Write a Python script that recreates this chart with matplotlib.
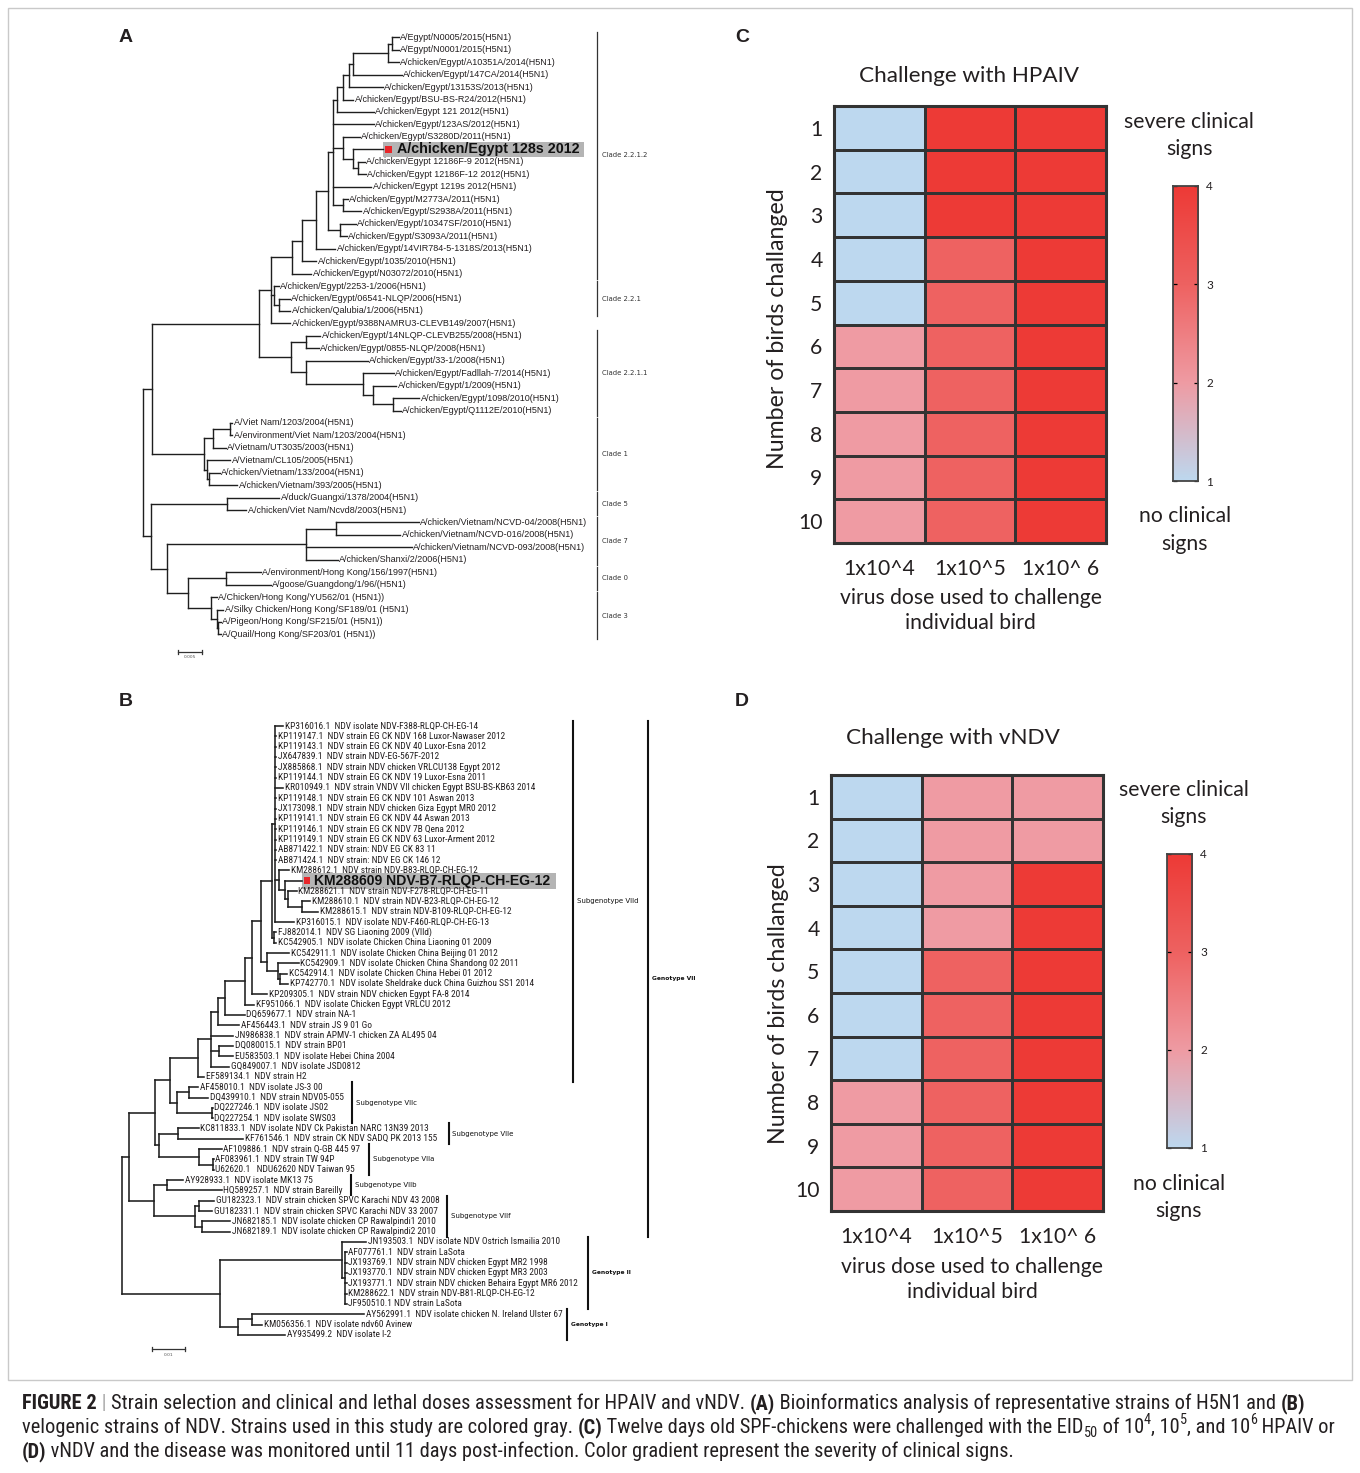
import matplotlib
matplotlib.use("Agg")
import numpy as np
import matplotlib.pyplot as plt
from matplotlib import font_manager
from matplotlib.colors import LinearSegmentedColormap
from matplotlib.collections import LineCollection
from matplotlib.patches import Rectangle

# ============================ DATA ============================
LEAVES_A = [
    "A/Egypt/N0005/2015(H5N1)", "A/Egypt/N0001/2015(H5N1)",
    "A/chicken/Egypt/A10351A/2014(H5N1)", "A/chicken/Egypt/147CA/2014(H5N1)",
    "A/chicken/Egypt/13153S/2013(H5N1)", "A/chicken/Egypt/BSU-BS-R24/2012(H5N1)",
    "A/chicken/Egypt 121 2012(H5N1)", "A/chicken/Egypt/123AS/2012(H5N1)",
    "A/chicken/Egypt/S3280D/2011(H5N1)", "A/chicken/Egypt 128s 2012",
    "A/chicken/Egypt 12186F-9 2012(H5N1)", "A/chicken/Egypt 12186F-12 2012(H5N1)",
    "A/chicken/Egypt 1219s 2012(H5N1)", "A/chicken/Egypt/M2773A/2011(H5N1)",
    "A/chicken/Egypt/S2938A/2011(H5N1)", "A/chicken/Egypt/10347SF/2010(H5N1)",
    "A/chicken/Egypt/S3093A/2011(H5N1)", "A/chicken/Egypt/14VIR784-5-1318S/2013(H5N1)",
    "A/chicken/Egypt/1035/2010(H5N1)", "A/chicken/Egypt/N03072/2010(H5N1)",
    "A/chicken/Egypt/2253-1/2006(H5N1)", "A/chicken/Egypt/06541-NLQP/2006(H5N1)",
    "A/chicken/Qalubia/1/2006(H5N1)", "A/chicken/Egypt/9388NAMRU3-CLEVB149/2007(H5N1)",
    "A/chicken/Egypt/14NLQP-CLEVB255/2008(H5N1)", "A/chicken/Egypt/0855-NLQP/2008(H5N1)",
    "A/chicken/Egypt/33-1/2008(H5N1)", "A/chicken/Egypt/Fadllah-7/2014(H5N1)",
    "A/chicken/Egypt/1/2009(H5N1)", "A/chicken/Egypt/1098/2010(H5N1)",
    "A/chicken/Egypt/Q1112E/2010(H5N1)", "A/Viet Nam/1203/2004(H5N1)",
    "A/environment/Viet Nam/1203/2004(H5N1)", "A/Vietnam/UT3035/2003(H5N1)",
    "A/Vietnam/CL105/2005(H5N1)", "A/chicken/Vietnam/133/2004(H5N1)",
    "A/chicken/Vietnam/393/2005(H5N1)", "A/duck/Guangxi/1378/2004(H5N1)",
    "A/chicken/Viet Nam/Ncvd8/2003(H5N1)", "A/chicken/Vietnam/NCVD-04/2008(H5N1)",
    "A/chicken/Vietnam/NCVD-016/2008(H5N1)", "A/chicken/Vietnam/NCVD-093/2008(H5N1)",
    "A/chicken/Shanxi/2/2006(H5N1)", "A/environment/Hong Kong/156/1997(H5N1)",
    "A/goose/Guangdong/1/96/(H5N1)", "A/Chicken/Hong Kong/YU562/01 (H5N1))",
    "A/Silky Chicken/Hong Kong/SF189/01 (H5N1)", "A/Pigeon/Hong Kong/SF215/01 (H5N1))",
    "A/Quail/Hong Kong/SF203/01 (H5N1))",
]
HIGHLIGHT_A = 9

# internal node -> [(child, branch length)], leaves are indices into LEAVES_A
TREE_A = {
    "root": [("p1", 9.4), ("o1", 7.6)],
    "p1": [("t", 106.6), ("e1", 51.6)],
    "t": [("s", 11.8), ("u", 32.3)],
    "s": [("p", 21.2), ("q", 3.6), (23, 19.4)],
    "p": [("o", 10.0), (19, 19.0)],
    "o": [("n", 13.7), (18, 14.4)],
    "n": [("m", 12.2), (17, 19.7)],
    "m": [("g", 5.4), ("l", 11.8)],
    "l": [(15, 16.2), (16, 7.2)],
    "g": [("f", 3.6), (7, 40.5), ("h", 9.3), (12, 38.0), ("i", 10.0)],
    "f": [("e", 6.4), (6, 36.9)],
    "e": [("d", 5.4), (5, 10.1)],
    "d": [("c", 4.3), (4, 34.1)],
    "c": [("b", 35.2), (3, 48.5)],
    "b": [("a", 3.6), (2, 10.7)],
    "a": [(0, 7.1), (1, 7.1)],
    "h": [(8, 16.9), ("j", 10.8)],
    "j": [(9, 29.4), ("k", 4.3)],
    "k": [(10, 7.1), (11, 7.9)],
    "i": [(13, 4.3), (14, 18.0)],
    "q": [(20, 4.3), ("r", 4.3)],
    "r": [(21, 10.8), (22, 11.5)],
    "u": [("v", 14.3), ("w", 14.3)],
    "v": [(24, 14.4), (25, 13.3)],
    "w": [(26, 62.1), ("x1", 57.5)],
    "x1": [(27, 30.5), ("y1", 9.6)],
    "y1": [(28, 23.4), ("z1", 19.8)],
    "z1": [(29, 26.9), (30, 8.2)],
    "e1": [("b1", 9.0), ("c1", 2.9)],
    "b1": [("a1", 16.5), (33, 12.6)],
    "a1": [(31, 2.5), (32, 2.5)],
    "c1": [(34, 23.3), ("d1", 2.2)],
    "d1": [(35, 10.4), (36, 28.3)],
    "o1": [("f1", 76.8), ("n1", 16.8)],
    "f1": [(37, 52.0), (38, 19.0)],
    "n1": [("h1", 138.2), ("m1", 20.5)],
    "h1": [("g1", 30.5), (41, 105.9), (42, 32.3)],
    "g1": [(39, 82.6), (40, 63.9)],
    "m1": [("i1", 38.0), ("j1", 23.3)],
    "i1": [(43, 34.9), (44, 44.9)],
    "j1": [(45, 5.4), ("k1", 5.4)],
    "k1": [(46, 6.5), ("l1", 1.8)],
    "l1": [(47, 2.2), (48, 2.2)],
}
CLADES_A = [("Clade 2.2.1.2", 0, 19), ("Clade 2.2.1", 20, 22), ("Clade 2.2.1.1", 24, 30),
            ("Clade 1", 31, 36), ("Clade 5", 37, 38), ("Clade 7", 39, 42),
            ("Clade 0", 43, 44), ("Clade 3", 45, 48)]
SCALE_A = ("0.005", 24.4)

LEAVES_B = [
    "KP316016.1  NDV isolate NDV-F388-RLQP-CH-EG-14",
    "KP119147.1  NDV strain EG CK NDV 168 Luxor-Nawaser 2012",
    "KP119143.1  NDV strain EG CK NDV 40 Luxor-Esna 2012",
    "JX647839.1  NDV strain NDV-EG-567F-2012",
    "JX885868.1  NDV strain NDV chicken VRLCU138 Egypt 2012",
    "KP119144.1  NDV strain EG CK NDV 19 Luxor-Esna 2011",
    "KR010949.1  NDV strain VNDV VII chicken Egypt BSU-BS-KB63 2014",
    "KP119148.1  NDV strain EG CK NDV 101 Aswan 2013",
    "JX173098.1  NDV strain NDV chicken Giza Egypt MR0 2012",
    "KP119141.1  NDV strain EG CK NDV 44 Aswan 2013",
    "KP119146.1  NDV strain EG CK NDV 7B Qena 2012",
    "KP119149.1  NDV strain EG CK NDV 63 Luxor-Arment 2012",
    "AB871422.1  NDV strain: NDV EG CK 83 11",
    "AB871424.1  NDV strain: NDV EG CK 146 12",
    "KM288612.1  NDV strain NDV-B83-RLQP-CH-EG-12",
    "KM288609 NDV-B7-RLQP-CH-EG-12",
    "KM288621.1  NDV strain NDV-F278-RLQP-CH-EG-11",
    "KM288610.1  NDV strain NDV-B23-RLQP-CH-EG-12",
    "KM288615.1  NDV strain NDV-B109-RLQP-CH-EG-12",
    "KP316015.1  NDV isolate NDV-F460-RLQP-CH-EG-13",
    "FJ882014.1  NDV SG Liaoning 2009 (VIId)",
    "KC542905.1  NDV isolate Chicken China Liaoning 01 2009",
    "KC542911.1  NDV isolate Chicken China Beijing 01 2012",
    "KC542909.1  NDV isolate Chicken China Shandong 02 2011",
    "KC542914.1  NDV isolate Chicken China Hebei 01 2012",
    "KP742770.1  NDV isolate Sheldrake duck China Guizhou SS1 2014",
    "KP209305.1  NDV strain NDV chicken Egypt FA-8 2014",
    "KF951066.1  NDV isolate Chicken Egypt VRLCU 2012",
    "DQ659677.1  NDV strain NA-1",
    "AF456443.1  NDV strain JS 9 01 Go",
    "JN986838.1  NDV strain APMV-1 chicken ZA AL495 04",
    "DQ080015.1  NDV strain BP01",
    "EU583503.1  NDV isolate Hebei China 2004",
    "GQ849007.1  NDV isolate JSD0812",
    "EF589134.1  NDV strain H2",
    "AF458010.1  NDV isolate JS-3 00",
    "DQ439910.1  NDV strain NDV05-055",
    "DQ227246.1  NDV isolate JS02",
    "DQ227254.1  NDV isolate SWS03",
    "KC811833.1  NDV isolate NDV Ck Pakistan NARC 13N39 2013",
    "KF761546.1  NDV strain CK NDV SADQ PK 2013 155",
    "AF109886.1  NDV strain Q-GB 445 97",
    "AF083961.1  NDV strain TW 94P",
    "U62620.1   NDU62620 NDV Taiwan 95",
    "AY928933.1  NDV isolate MK13 75",
    "HQ589257.1  NDV strain Bareilly",
    "GU182323.1  NDV strain chicken SPVC Karachi NDV 43 2008",
    "GU182331.1  NDV strain chicken SPVC Karachi NDV 33 2007",
    "JN682185.1  NDV isolate chicken CP Rawalpindi1 2010",
    "JN682189.1  NDV isolate chicken CP Rawalpindi2 2010",
    "JN193503.1  NDV isolate NDV Ostrich Ismailia 2010",
    "AF077761.1  NDV strain LaSota",
    "JX193769.1  NDV strain NDV chicken Egypt MR2 1998",
    "JX193770.1  NDV strain NDV chicken Egypt MR3 2003",
    "JX193771.1  NDV strain NDV chicken Behaira Egypt MR6 2012",
    "KM288622.1  NDV strain NDV-B81-RLQP-CH-EG-12",
    "JF950510.1 NDV strain LaSota",
    "AY562991.1  NDV isolate chicken N. Ireland Ulster 67",
    "KM056356.1  NDV isolate ndv60 Avinew",
    "AY935499.2  NDV isolate I-2",
]
HIGHLIGHT_B = 15

TREE_B = {
    "root": [("G7", 7.7), ("G3", 98.1)],
    "G7": [("N9", 25.8), ("N11", 25.0)],
    "N9": [("N8", 14.5), ("N10", 4.2)],
    "N8": [("N7", 28.2), ("C1", 7.2)],
    "N7": [("N6", 13.1), (34, 6.5)],
    "N6": [("N5", 6.9), (30, 22.2), ("N6b", 8.0), (33, 18.4)],
    "N6b": [(31, 14.2), (32, 14.2)],
    "N5": [("N4", 7.7), (29, 21.1)],
    "N4": [("N3", 20.0), (28, 19.2)],
    "N3": [("N2", 6.9), (27, 8.6)],
    "N2": [("N1", 8.5), (26, 14.7)],
    "N1": [("P", 10.7), ("V", 6.1)],
    "P": [("Q", 3.9), ("P2", 2.0)],
    "P2": [(20, 2.5), (21, 2.5)],
    "Q": [(0, 7.6), (1, 0.8), (2, 0.8), (3, 0.8), (4, 0.8), (5, 0.8), (6, 7.6),
          (7, 0.8), (8, 0.8), (9, 0.8), (10, 0.8), (11, 0.8), (12, 0.8), (13, 0.8),
          ("R", 3.8), (19, 18.4)],
    "R": [(14, 9.6), ("S", 5.8)],
    "S": [(15, 16.5), ("T", 2.7)],
    "T": [(16, 8.8), ("U", 14.6)],
    "U": [(17, 7.7), (18, 15.4)],
    "V": [(22, 21.9), ("W", 11.1)],
    "W": [(23, 20.5), ("X2", 2.0)],
    "X2": [(24, 7.0), (25, 7.7)],
    "C1": [("C2", 12.1), ("C3", 35.3)],
    "C2": [(35, 9.2), (36, 19.2)],
    "C3": [(37, 0.5), (38, 0.5)],
    "N10": [("E1", 19.1), ("A1", 40.0)],
    "E1": [(39, 20.2), (40, 64.4)],
    "A1": [(41, 22.3), ("A2", 13.8)],
    "A2": [(42, 0.5), (43, 0.5)],
    "N11": [("B1", 12.8), ("F1", 40.4)],
    "B1": [(44, 16.0), (45, 54.5)],
    "F1": [("F2", 3.9), ("F3", 7.7)],
    "F2": [(46, 15.3), (47, 13.5)],
    "F3": [(48, 27.7), (49, 27.7)],
    "G3": [("GII", 122.4), ("GI", 18.4)],
    "GII": [(50, 24.0), ("GII2", 2.6)],
    "GII2": [(51, 1.9), (52, 1.9), (53, 1.9), (54, 1.9), (55, 1.9), (56, 1.9)],
    "GI": [("GI2", 14.0), (59, 47.0)],
    "GI2": [(57, 112.0), (58, 10.0)],
}
GROUPS_B = [("Subgenotype VIId", 0, 34, False), ("Genotype VII", 0, 49, True),
            ("Subgenotype VIIc", 35, 38, False), ("Subgenotype VIIe", 39, 40, False),
            ("Subgenotype VIIa", 41, 43, False), ("Subgenotype VIIb", 44, 45, False),
            ("Subgenotype VIIf", 46, 49, False), ("Genotype II", 50, 56, True),
            ("Genotype I", 57, 59, True)]
SCALE_B = ("0.01", 33.5)

DOSES = ["1x10^4", "1x10^5", "1x10^ 6"]
BIRDS = ["1", "2", "3", "4", "5", "6", "7", "8", "9", "10"]
HPAIV_1E4 = [1, 1, 1, 1, 1, 2, 2, 2, 2, 2]
HPAIV_1E5 = [4, 4, 4, 3, 3, 3, 3, 3, 3, 3]
HPAIV_1E6 = [4, 4, 4, 4, 4, 4, 4, 4, 4, 4]
NDV_1E4 = [1, 1, 1, 1, 1, 1, 1, 2, 2, 2]
NDV_1E5 = [2, 2, 2, 2, 3, 3, 3, 3, 3, 3]
NDV_1E6 = [2, 2, 4, 4, 4, 4, 4, 4, 4, 4]
CBAR_TICKS = [1, 2, 3, 4]

# ============================ LAYOUT / STYLE ============================
W, H, DPI = 1360, 1473, 100
names = {f.name for f in font_manager.fontManager.ttflist}


def pick(cands, default):
    for c in cands:
        if c in names:
            return c
    return default


ARIAL = "Liberation Sans"
NARROW = pick(["Liberation Sans Narrow", "Roboto Condensed", "Open Sans Condensed",
               "Noto Sans Condensed", "Arial Narrow"], ARIAL)
HMF = pick(["Lato", "Open Sans"], "DejaVu Sans")
SMALLF = "DejaVu Sans"
INK = "#231f20"

plt.rcParams["font.family"] = [ARIAL, "DejaVu Sans"]

CMAP = LinearSegmentedColormap.from_list(
    "sev", [(0.0, "#BDD8EF"), (1 / 3, "#EF9BA3"), (2 / 3, "#EE6261"), (1.0, "#ED3A36")])

fig = plt.figure(figsize=(W / DPI, H / DPI), dpi=DPI)
ax = fig.add_axes([0, 0, 1, 1])
ax.set_xlim(0, W)
ax.set_ylim(H, 0)
ax.axis("off")
R = fig.canvas.get_renderer()
inv = ax.transData.inverted()


def twidth(s, size, family, weight="normal"):
    t = ax.text(0, 0, s, fontsize=size, family=family, fontweight=weight)
    w = t.get_window_extent(R).width
    t.remove()
    return w


def fit(s, target, family, weight="normal"):
    return 10.0 * target / twidth(s, 10.0, family, weight)


def data_extent(t):
    bb = t.get_window_extent(R)
    (xa, ya), (xb, yb) = inv.transform([(bb.x0, bb.y0), (bb.x1, bb.y1)])
    return xa, xb


def draw_tree(tree, root_x, y0, dy, lw):
    xs, ys = {}, {}

    def rec(node, x):
        xs[node] = x
        if isinstance(node, str):
            for c, bl in tree[node]:
                rec(c, x + bl)
            kids = [c for c, _ in tree[node]]
            ys[node] = (ys[kids[0]] + ys[kids[-1]]) / 2.0
        else:
            ys[node] = float(node)

    rec("root", 0.0)

    def X(n):
        return root_x + xs[n]

    def Y(n):
        return y0 + ys[n] * dy

    segs = []
    for node, kids in tree.items():
        segs.append([(X(node), Y(kids[0][0])), (X(node), Y(kids[-1][0]))])
        for c, _ in kids:
            segs.append([(X(node), Y(c)), (X(c), Y(c))])
    ax.add_collection(LineCollection(segs, colors="#1e1e1e", linewidths=lw,
                                     capstyle="projecting", zorder=2))
    return X, Y


# ---------------- frame + panel letters ----------------
ax.add_patch(Rectangle((8, 8), 1344, 1372, fill=False, ec="#c9c9c9", lw=1.0))
for letter, (lx, ly) in zip("ABCD", [(126, 38), (126, 702), (742, 38), (742, 702)]):
    ax.text(lx, ly, letter, fontsize=14, fontweight="bold", family=ARIAL,
            ha="center", va="center", color=INK)

# ---------------- tree A ----------------
XA, YA = draw_tree(TREE_A, root_x=143.0, y0=37.3, dy=12.44, lw=1.0)
fsA = fit(LEAVES_A[3], 147, ARIAL)
for i, name in enumerate(LEAVES_A):
    if i == HIGHLIGHT_A:
        continue
    ax.text(XA(i) + 1.5, YA(i), name, fontsize=fsA, family=ARIAL, ha="left",
            va="center", color=INK)
xe, yc = XA(HIGHLIGHT_A), YA(HIGHLIGHT_A)
th = ax.text(xe + 14.4, yc, LEAVES_A[HIGHLIGHT_A], fontsize=fit(LEAVES_A[HIGHLIGHT_A], 183, ARIAL, "bold"),
             fontweight="bold", family=ARIAL, ha="left", va="center", color="#111111", zorder=4)
_, tx1 = data_extent(th)
ax.add_patch(Rectangle((xe, yc - 7.7), tx1 + 4 - xe, 15.4, fc="#b4b4b4", ec="none", zorder=1))
ax.add_patch(Rectangle((xe + 2, yc - 3.5), 7, 7, fc="#e8262a", ec="none", zorder=3))

fsClade = fit("Clade 2.2.1.2", 46, SMALLF)
for label, a, b in CLADES_A:
    ax.plot([597, 597], [YA(a) - 5.4, YA(b) + 5.0], color="#333333", lw=0.9)
    ax.text(602, (YA(a) + YA(b)) / 2, label, fontsize=fsClade, family=SMALLF,
            ha="left", va="center", color="#333333")
sx0 = 178.0
ax.plot([sx0, sx0 + SCALE_A[1]], [651.7, 651.7], color="#333333", lw=0.9)
for xx in (sx0, sx0 + SCALE_A[1]):
    ax.plot([xx, xx], [649.5, 653.9], color="#333333", lw=0.9)
ax.text(sx0 + SCALE_A[1] / 2, 657.5, SCALE_A[0], fontsize=3.2, family=SMALLF,
        ha="center", va="center", color="#555555")

# ---------------- tree B ----------------
XB, YB = draw_tree(TREE_B, root_x=121.5, y0=726.0, dy=10.32, lw=1.15)
fsB = fit(LEAVES_B[0], 191, NARROW)
for i, name in enumerate(LEAVES_B):
    if i == HIGHLIGHT_B:
        continue
    ax.text(XB(i) + 1.8, YB(i), name, fontsize=fsB, family=NARROW, ha="left",
            va="center", color=INK)
xe, yc = XB(HIGHLIGHT_B), YB(HIGHLIGHT_B)
th = ax.text(xe + 12.3, yc, LEAVES_B[HIGHLIGHT_B],
             fontsize=fit(LEAVES_B[HIGHLIGHT_B], 236, ARIAL, "bold"),
             fontweight="bold", family=ARIAL, ha="left", va="center", color="#111111", zorder=4)
_, tx1 = data_extent(th)
ax.add_patch(Rectangle((xe, yc - 8.3), tx1 + 6 - xe, 16.6, fc="#b4b4b4", ec="none", zorder=1))
ax.add_patch(Rectangle((xe + 2.7, yc - 3.4), 6.2, 6.8, fc="#e8262a", ec="none", zorder=3))

BAR_X_B = [573, 648, 351.5, 448.5, 369, 351, 447.3, 587.7, 567]
fsGrp = fit("Subgenotype VIId", 62, SMALLF)
fsGen = fit("Genotype VII", 44, SMALLF, "bold")
for (label, a, b, bold), bx in zip(GROUPS_B, BAR_X_B):
    ax.plot([bx, bx], [YB(a) - 5.0, YB(b) + 5.0], color="#111111", lw=1.5)
    ax.text(bx + 4, (YB(a) + YB(b)) / 2, label, fontsize=fsGen if bold else fsGrp,
            family=SMALLF, fontweight="bold" if bold else "normal",
            ha="left", va="center", color="#111111")
sx0 = 151.5
ax.plot([sx0, sx0 + SCALE_B[1]], [1349, 1349], color="#333333", lw=0.9)
for xx in (sx0, sx0 + SCALE_B[1]):
    ax.plot([xx, xx], [1346.8, 1351.2], color="#333333", lw=0.9)
ax.text(sx0 + SCALE_B[1] / 2, 1355, SCALE_B[0], fontsize=3.2, family=SMALLF,
        ha="center", va="center", color="#555555")

# ---------------- heatmaps ----------------
fs_title = fit("Challenge with HPAIV", 219, HMF)
fs_ylab = fit("Number of birds challanged", 280, HMF)
fs_txt = fit("virus dose used to challenge", 262, HMF)


def heat_panel(cols, box, cbar, title, title_xy, ylab_xy, xl_xy, sev_xy, no_xy):
    x0, y0, x1, y1 = box
    hax = fig.add_axes([x0 / W, 1 - y1 / H, (x1 - x0) / W, (y1 - y0) / H])
    data = np.column_stack(cols)
    hax.pcolormesh(np.arange(len(DOSES) + 1), np.arange(len(BIRDS) + 1), data,
                   cmap=CMAP, vmin=1, vmax=4, edgecolors="#333333", linewidth=1.0)
    hax.set_xlim(0, len(DOSES))
    hax.set_ylim(len(BIRDS), 0)
    hax.set_xticks(np.arange(len(DOSES)) + 0.5)
    hax.set_xticklabels(DOSES, fontsize=fs_txt, family=HMF, color=INK)
    hax.set_yticks(np.arange(len(BIRDS)) + 0.5)
    hax.set_yticklabels(BIRDS, fontsize=fs_txt, family=HMF, color=INK)
    hax.tick_params(length=0)
    hax.tick_params(axis="y", pad=11.5 * 0.72)
    hax.tick_params(axis="x", pad=16 * 0.72)
    for sp in hax.spines.values():
        sp.set_linewidth(2.2)
        sp.set_edgecolor("#333333")

    c0, c1y0, c1, c1y1 = cbar
    cax = fig.add_axes([c0 / W, 1 - c1y1 / H, (c1 - c0) / W, (c1y1 - c1y0) / H])
    grad = np.linspace(CBAR_TICKS[0], CBAR_TICKS[-1], 256)[:, None]
    cax.imshow(grad, aspect="auto", cmap=CMAP, vmin=1, vmax=4, origin="lower",
               extent=[0, 1, CBAR_TICKS[0], CBAR_TICKS[-1]])
    cax.set_xlim(0, 1)
    cax.set_ylim(CBAR_TICKS[0], CBAR_TICKS[-1])
    cax.set_xticks([])
    cax.set_yticks(CBAR_TICKS)
    cax.set_yticklabels([str(v) for v in CBAR_TICKS], fontsize=8.5, family=HMF, color=INK)
    cax.yaxis.tick_right()
    cax.tick_params(axis="y", direction="in", length=3, width=0.9, left=True, right=True,
                    labelleft=False, labelright=True, pad=6)
    for sp in cax.spines.values():
        sp.set_linewidth(1.3)
        sp.set_edgecolor("#444444")

    ax.text(*title_xy, title, fontsize=fs_title, family=HMF, ha="center", va="center", color=INK)
    ax.text(*ylab_xy, "Number of birds challanged", fontsize=fs_ylab, family=HMF,
            rotation=90, ha="center", va="center", color=INK)
    ax.text(xl_xy[0], xl_xy[1], "virus dose used to challenge", fontsize=fs_txt, family=HMF,
            ha="center", va="center", color=INK)
    ax.text(xl_xy[0], xl_xy[1] + 25, "individual bird", fontsize=fs_txt, family=HMF,
            ha="center", va="center", color=INK)
    ax.text(sev_xy[0], sev_xy[1], "severe clinical", fontsize=fs_txt, family=HMF,
            ha="center", va="center", color=INK)
    ax.text(sev_xy[0], sev_xy[1] + 27, "signs", fontsize=fs_txt, family=HMF,
            ha="center", va="center", color=INK)
    ax.text(no_xy[0], no_xy[1], "no clinical", fontsize=fs_txt, family=HMF,
            ha="center", va="center", color=INK)
    ax.text(no_xy[0], no_xy[1] + 27, "signs", fontsize=fs_txt, family=HMF,
            ha="center", va="center", color=INK)


heat_panel([HPAIV_1E4, HPAIV_1E5, HPAIV_1E6], (834, 106, 1106, 543),
           (1172.6, 186, 1197.7, 481), "Challenge with HPAIV",
           (968.7, 75.9), (777, 329), (970.5, 598), (1189.4, 122), (1185, 516.5))
heat_panel([NDV_1E4, NDV_1E5, NDV_1E6], (831, 775, 1103, 1211),
           (1166.8, 854, 1192, 1148), "Challenge with vNDV",
           (952.5, 738.4), (778.5, 1003.5), (972, 1267), (1184, 789.6), (1178.7, 1184))

# ---------------- caption ----------------
CAPTION = [
    [("FIGURE 2", "bold", 0), (" | ", "light", 0),
     ("Strain selection and clinical and lethal doses assessment for HPAIV and vNDV. ", "normal", 0),
     ("(A)", "bold", 0), (" Bioinformatics analysis of representative strains of H5N1 and ", "normal", 0),
     ("(B)", "bold", 0)],
    [("velogenic strains of NDV. Strains used in this study are colored gray. ", "normal", 0),
     ("(C)", "bold", 0), (" Twelve days old SPF-chickens were challenged with the EID", "normal", 0),
     ("50", "normal", -1), (" of 10", "normal", 0), ("4", "normal", 1), (", 10", "normal", 0),
     ("5", "normal", 1), (", and 10", "normal", 0), ("6", "normal", 1), (" HPAIV or", "normal", 0)],
    [("(D)", "bold", 0),
     (" vNDV and the disease was monitored until 11 days post-infection. Color gradient represent the severity of clinical signs.", "normal", 0)],
]


def run_w(s, size, weight):
    wt = "normal" if weight == "light" else weight
    return twidth("|" + s + "|", size, NARROW, wt) - twidth("||", size, NARROW, wt)


def line_w(runs, size):
    tot = 0
    for s, wt, sh in runs:
        tot += run_w(s, size * (0.7 if sh else 1.0), wt)
    return tot


cap_size = 10.0 * 1271 / line_w(CAPTION[0], 10.0)
for runs, base in zip(CAPTION, [1409, 1433, 1457]):
    x = 22.0
    for s, wt, sh in runs:
        sz = cap_size * (0.7 if sh else 1.0)
        dy = {0: 0, 1: -0.42, -1: 0.2}[sh] * cap_size * DPI / 72
        ax.text(x, base + dy, s, fontsize=sz, family=NARROW,
                fontweight="normal" if wt == "light" else wt,
                color="#aaaaaa" if wt == "light" else INK, ha="left", va="baseline")
        x += run_w(s, sz, wt)

fig.savefig("out.png", dpi=DPI, facecolor="white")
